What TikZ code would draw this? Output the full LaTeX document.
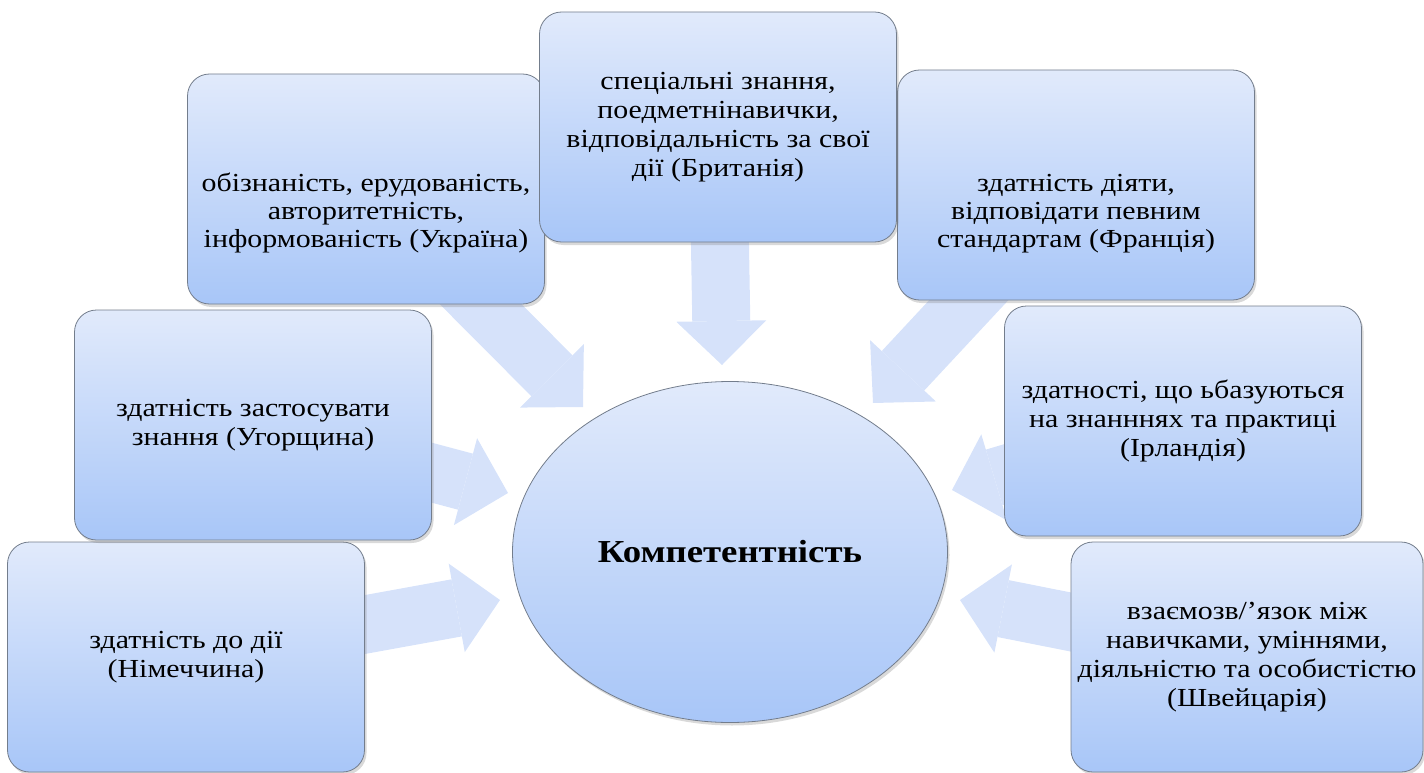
\documentclass[tikz,border=0pt]{standalone}
\usepackage{fontspec}
\setmainfont{Liberation Serif}[FakeStretch=1.15]
\usetikzlibrary{arrows.meta,shapes.geometric,shadows,backgrounds}
\definecolor{boxtop}{RGB}{225,234,251}
\definecolor{boxbottom}{RGB}{168,198,248}
\definecolor{boxline}{RGB}{115,125,140}
\definecolor{flowfill}{RGB}{214,226,250}
\begin{document}
\begin{tikzpicture}
    [
    x=1pt,y=-1pt,
    box/.style={rectangle,rounded corners=22pt,draw=boxline,line width=0.8pt,top color=boxtop,bottom color=boxbottom,minimum width=357pt,minimum height=230pt,align=center,font=\fontsize{26}{29}\selectfont,drop shadow={opacity=0.3,shadow xshift=2pt,shadow yshift=-3pt}},
    txt/.style={align=center,font=\fontsize{26}{28}\selectfont},
    core/.style={ellipse,draw=boxline,line width=0.8pt,top color=boxtop,bottom color=boxbottom,minimum width=435pt,minimum height=341pt,font=\fontsize{32}{36}\selectfont\bfseries,drop shadow={opacity=0.3,shadow xshift=2pt,shadow yshift=-3pt}},
    flow/.style={line width=58pt,draw=flowfill,-{Triangle[length=44pt,width=90pt,line width=0pt]}}
    ]
    \useasboundingbox (0,0) rectangle (1424,773);
    \node (comp) at (730,552) [core] {Компетентність};
    \node (ger) at (186,657) [box] {здатність до дії\\(Німеччина)};
    \node (hun) at (253,425) [box] {здатність застосувати\\знання (Угорщина)};
    \node (ukr) at (366,189) [box] {};
    \node (ukrtext) at (366,213) [txt] {обізнаність, ерудованість,\\авторитетність,\\інформованість (Україна)};
    \node (fra) at (1076,185) [box] {};
    \node (fratext) at (1076,214) [txt] {здатність діяти,\\відповідати певним\\стандартам (Франція)};
    \node (bri) at (718,127) [box] {спеціальні знання,\\поедметнінавички,\\відповідальність за свої\\дії (Британія)};
    \node (ire) at (1183,421) [box] {здатності, що ьбазуються\\на знанннях та практиці\\(Ірландія)};
    \node (swi) at (1247,657) [box,minimum width=352pt] {взаємозв/{\char"27}язок між\\навичками, уміннями,\\діяльністю та особистістю\\(Швейцарія)};
    \coordinate (tipukr) at (583,407);
    \coordinate (tipbri) at (722,365);
    \coordinate (tipfra) at (873,403);
    \coordinate (tiphun) at (508,493);
    \coordinate (tipger) at (500,600);
    \coordinate (tipire) at (952,490);
    \coordinate (tipswi) at (960,600);
    \begin{scope}[on background layer]
    \draw [flow] (ukr.center) to (tipukr);
    \draw [flow] (bri.center) to (tipbri);
    \draw [flow] (fra.center) to (tipfra);
    \draw [flow] (hun.center) to (tiphun);
    \draw [flow] (ger.center) to (tipger);
    \draw [flow] (ire.center) to (tipire);
    \draw [flow] (swi.center) to (tipswi);
    \end{scope}
  \end{tikzpicture}
\end{document}
